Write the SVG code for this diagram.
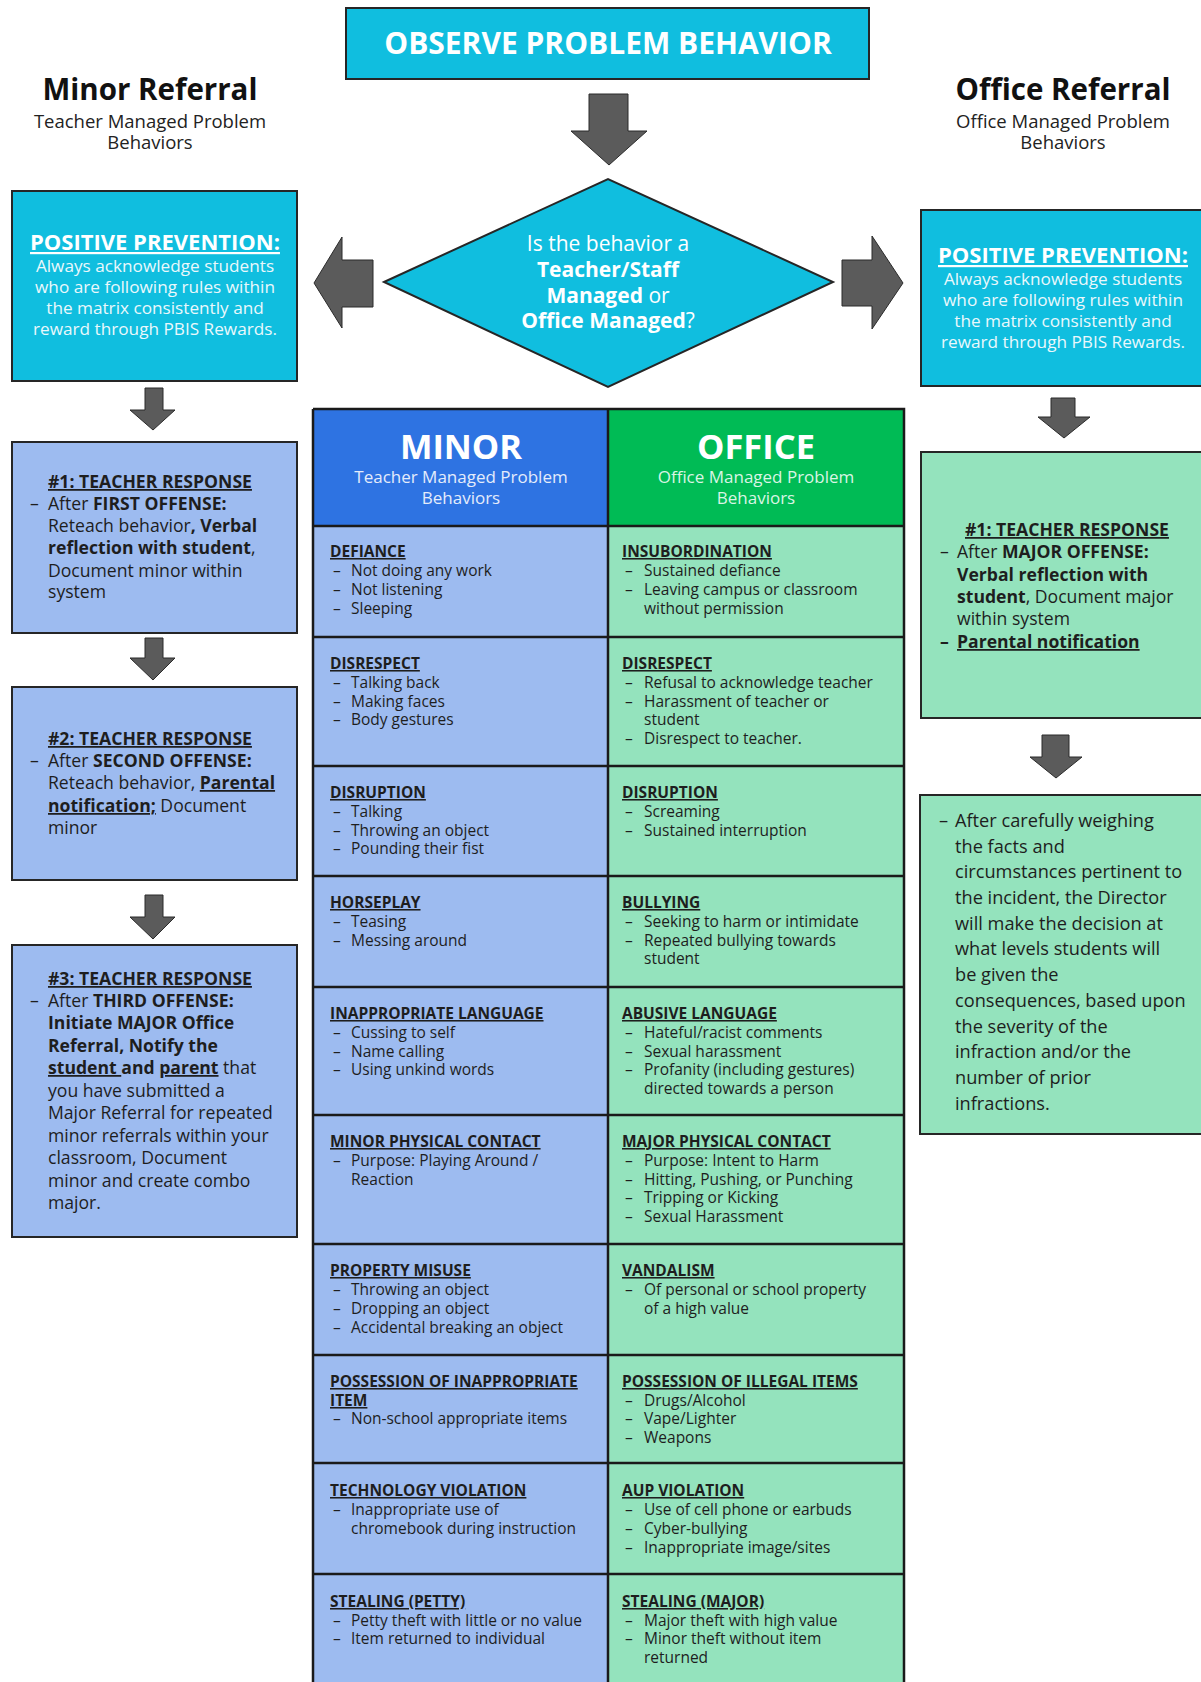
<svg xmlns="http://www.w3.org/2000/svg" width="1201" height="1682" viewBox="0 0 1201 1682">
<defs>
<style>
text{font-family:"Open Sans","Liberation Sans",sans-serif;}
.cyan{fill:#10bedf;stroke:#262626;stroke-width:2;}
.blue{fill:#9dbbf0;stroke:#262626;stroke-width:2;}
.mint{fill:#94e3bd;stroke:#262626;stroke-width:2;}
.arrow{fill:#5b5b5b;stroke:#2b2b2b;stroke-width:1;}
.grid{stroke:#1a1a1a;stroke-width:2.5;fill:none;}
.w{fill:#ffffff;}
.wl{fill:#eaf8fc;}
.b{font-weight:700;}
.u{text-decoration:underline;}
.ttl{font-size:29.5px;font-weight:700;fill:#111;}
.sub{font-size:18.5px;fill:#222;}
.pp{font-size:22px;font-weight:700;text-decoration:underline;}
.ppb{font-size:17.2px;}
.tb{font-size:17.6px;fill:#1e1e1e;}
.tb2{font-size:18.2px;fill:#1e1e1e;}
.ch{font-size:15.5px;font-weight:700;text-decoration:underline;fill:#1e1e1e;}
.ct{font-size:15.5px;fill:#1e1e1e;}
</style>
</defs>

<g id="connectors">
<polygon class="arrow" points="589,94 628,94 628,131 647,131 609,165 571,131 589,131"/>
<polygon class="arrow" points="373,260 342,260 342,237 314,283 342,328 342,307 373,307"/>
<polygon class="arrow" points="842,260 872,260 872,236 903,283 872,329 872,306 842,306"/>
<polygon class="arrow" points="145,388 163,388 163,410 175,410 153,430 130,410 145,410"/>
<polygon class="arrow" points="145,638 163,638 163,658 175,658 153,680 130,658 145,658"/>
<polygon class="arrow" points="145,895 163,895 163,917 175,917 153,939 130,917 145,917"/>
<polygon class="arrow" points="1051,398 1075,398 1075,417 1090,417 1064,438 1038,417 1051,417"/>
<polygon class="arrow" points="1042,735 1069,735 1069,757 1082,757 1056,778 1030,757 1042,757"/>
</g>

<g id="observe">
<rect class="cyan" x="346" y="8" width="523" height="71"/>
<text class="w b" x="608" y="54" font-size="30" text-anchor="middle">OBSERVE PROBLEM BEHAVIOR</text>
</g>

<g id="minor-title">
<text class="ttl" x="150" y="100" text-anchor="middle">Minor Referral</text>
<text class="sub" x="150" y="128" text-anchor="middle">Teacher Managed Problem</text>
<text class="sub" x="150" y="149" text-anchor="middle">Behaviors</text>
</g>

<g id="office-title">
<text class="ttl" x="1063" y="100" text-anchor="middle">Office Referral</text>
<text class="sub" x="1063" y="128" text-anchor="middle">Office Managed Problem</text>
<text class="sub" x="1063" y="149" text-anchor="middle">Behaviors</text>
</g>

<g id="decision">
<polygon class="cyan" points="384,282 608,179 833,282 608,387" stroke-width="1.5"/>
<g class="w" font-size="21" text-anchor="middle">
<text x="608" y="251">Is the behavior a</text>
<text x="608" y="277" class="w b">Teacher/Staff</text>
<text x="608" y="303"><tspan class="b">Managed</tspan> or</text>
<text x="608" y="328"><tspan class="b">Office Managed</tspan>?</text>
</g>
</g>

<g id="left-prevention">
<rect class="cyan" x="12" y="191" width="285" height="190"/>
<text class="w pp" x="155" y="250" text-anchor="middle">POSITIVE PREVENTION:</text>
<text class="wl ppb" x="155" y="272" text-anchor="middle">Always acknowledge students</text>
<text class="wl ppb" x="155" y="293" text-anchor="middle">who are following rules within</text>
<text class="wl ppb" x="155" y="314" text-anchor="middle">the matrix consistently and</text>
<text class="wl ppb" x="155" y="335" text-anchor="middle">reward through PBIS Rewards.</text>
</g>

<g id="right-prevention">
<rect class="cyan" x="921" y="210" width="295" height="176"/>
<text class="w pp" x="1063" y="263" text-anchor="middle">POSITIVE PREVENTION:</text>
<text class="wl ppb" x="1063" y="285" text-anchor="middle">Always acknowledge students</text>
<text class="wl ppb" x="1063" y="306" text-anchor="middle">who are following rules within</text>
<text class="wl ppb" x="1063" y="327" text-anchor="middle">the matrix consistently and</text>
<text class="wl ppb" x="1063" y="348" text-anchor="middle">reward through PBIS Rewards.</text>
</g>

<g id="teacher-response-1">
<rect class="blue" x="12" y="442" width="285" height="191"/>
<text class="tb b u" x="48" y="488">#1: TEACHER RESPONSE</text>
<text class="tb" x="30" y="510">–</text>
<text class="tb" x="48" y="510">After <tspan class="b">FIRST OFFENSE:</tspan></text>
<text class="tb" x="48" y="532">Reteach behavior<tspan class="b">, Verbal</tspan></text>
<text class="tb" x="48" y="554"><tspan class="b">reflection with student</tspan>,</text>
<text class="tb" x="48" y="577">Document minor within</text>
<text class="tb" x="48" y="598">system</text>
</g>

<g id="teacher-response-2">
<rect class="blue" x="12" y="687" width="285" height="193"/>
<text class="tb b u" x="48" y="745">#2: TEACHER RESPONSE</text>
<text class="tb" x="30" y="767">–</text>
<text class="tb" x="48" y="767">After <tspan class="b">SECOND OFFENSE:</tspan></text>
<text class="tb" x="48" y="789">Reteach behavior, <tspan class="b u">Parental</tspan></text>
<text class="tb" x="48" y="812"><tspan class="b u">notification;</tspan> Document</text>
<text class="tb" x="48" y="834">minor</text>
</g>

<g id="teacher-response-3">
<rect class="blue" x="12" y="945" width="285" height="292"/>
<text class="tb b u" x="48" y="985">#3: TEACHER RESPONSE</text>
<text class="tb" x="30" y="1007">–</text>
<text class="tb" x="48" y="1007">After <tspan class="b">THIRD OFFENSE:</tspan></text>
<text class="tb b" x="48" y="1029">Initiate MAJOR Office</text>
<text class="tb b" x="48" y="1052">Referral, Notify the</text>
<text class="tb" x="48" y="1074"><tspan class="b u">student </tspan><tspan class="b">and </tspan><tspan class="b u">parent</tspan> that</text>
<text class="tb" x="48" y="1097">you have submitted a</text>
<text class="tb" x="48" y="1119">Major Referral for repeated</text>
<text class="tb" x="48" y="1142">minor referrals within your</text>
<text class="tb" x="48" y="1164">classroom, Document</text>
<text class="tb" x="48" y="1187">minor and create combo</text>
<text class="tb" x="48" y="1209">major.</text>
</g>

<g id="office-response-1">
<rect class="mint" x="921" y="452" width="295" height="266"/>
<text class="tb b u" x="965" y="536">#1: TEACHER RESPONSE</text>
<text class="tb" x="940" y="558">–</text>
<text class="tb" x="957" y="558">After <tspan class="b">MAJOR OFFENSE:</tspan></text>
<text class="tb b" x="957" y="581">Verbal reflection with</text>
<text class="tb" x="957" y="603"><tspan class="b">student</tspan>, Document major</text>
<text class="tb" x="957" y="625">within system</text>
<text class="tb b" x="940" y="648">–</text>
<text class="tb b u" x="957" y="648">Parental notification</text>
</g>

<g id="office-response-2">
<rect class="mint" x="920" y="795" width="296" height="339"/>
<text class="tb2" x="939" y="827">–</text>
<text class="tb2" x="955" y="827">After carefully weighing</text>
<text class="tb2" x="955" y="853">the facts and</text>
<text class="tb2" x="955" y="878">circumstances pertinent to</text>
<text class="tb2" x="955" y="904">the incident, the Director</text>
<text class="tb2" x="955" y="930">will make the decision at</text>
<text class="tb2" x="955" y="955">what levels students will</text>
<text class="tb2" x="955" y="981">be given the</text>
<text class="tb2" x="955" y="1007">consequences, based upon</text>
<text class="tb2" x="955" y="1033">the severity of the</text>
<text class="tb2" x="955" y="1058">infraction and/or the</text>
<text class="tb2" x="955" y="1084">number of prior</text>
<text class="tb2" x="955" y="1110">infractions.</text>
</g>

<g id="matrix">
<rect x="313" y="409" width="295" height="117" fill="#2e73e2"/>
<rect x="608" y="409" width="296" height="117" fill="#00bb55"/>
<rect x="313" y="526" width="295" height="1160" fill="#9dbbf0"/>
<rect x="608" y="526" width="296" height="1160" fill="#94e3bd"/>
<path class="grid" d="M313,409 H904 V1690 M313,409 V1690 M608,409 V1690 M313,526 H904 M313,637 H904 M313,766 H904 M313,876 H904 M313,987 H904 M313,1115 H904 M313,1244 H904 M313,1355 H904 M313,1463 H904 M313,1574 H904"/>
</g>

<g id="minor-header">
<text class="w b" x="461" y="459" font-size="34.5" text-anchor="middle">MINOR</text>
<text x="461" y="483" font-size="17" fill="#e4ecfb" text-anchor="middle">Teacher Managed Problem</text>
<text x="461" y="504" font-size="17" fill="#e4ecfb" text-anchor="middle">Behaviors</text>
</g>
<g id="office-header">
<text class="w b" x="756" y="459" font-size="34.5" text-anchor="middle">OFFICE</text>
<text x="756" y="483" font-size="17" fill="#d9f5e4" text-anchor="middle">Office Managed Problem</text>
<text x="756" y="504" font-size="17" fill="#d9f5e4" text-anchor="middle">Behaviors</text>
</g>

<g id="minor-defiance">
<text class="ch" x="330" y="557">DEFIANCE</text>
<text class="ct" x="333" y="576">–</text><text class="ct" x="351" y="576">Not doing any work</text>
<text class="ct" x="333" y="595">–</text><text class="ct" x="351" y="595">Not listening</text>
<text class="ct" x="333" y="614">–</text><text class="ct" x="351" y="614">Sleeping</text>
</g>
<g id="office-insubordination">
<text class="ch" x="622" y="557">INSUBORDINATION</text>
<text class="ct" x="625" y="576">–</text><text class="ct" x="644" y="576">Sustained defiance</text>
<text class="ct" x="625" y="595">–</text><text class="ct" x="644" y="595">Leaving campus or classroom</text>
<text class="ct" x="644" y="614">without permission</text>
</g>

<g id="minor-disrespect">
<text class="ch" x="330" y="669">DISRESPECT</text>
<text class="ct" x="333" y="688">–</text><text class="ct" x="351" y="688">Talking back</text>
<text class="ct" x="333" y="707">–</text><text class="ct" x="351" y="707">Making faces</text>
<text class="ct" x="333" y="725">–</text><text class="ct" x="351" y="725">Body gestures</text>
</g>
<g id="office-disrespect">
<text class="ch" x="622" y="669">DISRESPECT</text>
<text class="ct" x="625" y="688">–</text><text class="ct" x="644" y="688">Refusal to acknowledge teacher</text>
<text class="ct" x="625" y="707">–</text><text class="ct" x="644" y="707">Harassment of teacher or</text>
<text class="ct" x="644" y="725">student</text>
<text class="ct" x="625" y="744">–</text><text class="ct" x="644" y="744">Disrespect to teacher.</text>
</g>

<g id="minor-disruption">
<text class="ch" x="330" y="798">DISRUPTION</text>
<text class="ct" x="333" y="817">–</text><text class="ct" x="351" y="817">Talking</text>
<text class="ct" x="333" y="836">–</text><text class="ct" x="351" y="836">Throwing an object</text>
<text class="ct" x="333" y="854">–</text><text class="ct" x="351" y="854">Pounding their fist</text>
</g>
<g id="office-disruption">
<text class="ch" x="622" y="798">DISRUPTION</text>
<text class="ct" x="625" y="817">–</text><text class="ct" x="644" y="817">Screaming</text>
<text class="ct" x="625" y="836">–</text><text class="ct" x="644" y="836">Sustained interruption</text>
</g>

<g id="minor-horseplay">
<text class="ch" x="330" y="908">HORSEPLAY</text>
<text class="ct" x="333" y="927">–</text><text class="ct" x="351" y="927">Teasing</text>
<text class="ct" x="333" y="946">–</text><text class="ct" x="351" y="946">Messing around</text>
</g>
<g id="office-bullying">
<text class="ch" x="622" y="908">BULLYING</text>
<text class="ct" x="625" y="927">–</text><text class="ct" x="644" y="927">Seeking to harm or intimidate</text>
<text class="ct" x="625" y="946">–</text><text class="ct" x="644" y="946">Repeated bullying towards</text>
<text class="ct" x="644" y="964">student</text>
</g>

<g id="minor-language">
<text class="ch" x="330" y="1019">INAPPROPRIATE LANGUAGE</text>
<text class="ct" x="333" y="1038">–</text><text class="ct" x="351" y="1038">Cussing to self</text>
<text class="ct" x="333" y="1057">–</text><text class="ct" x="351" y="1057">Name calling</text>
<text class="ct" x="333" y="1075">–</text><text class="ct" x="351" y="1075">Using unkind words</text>
</g>
<g id="office-language">
<text class="ch" x="622" y="1019">ABUSIVE LANGUAGE</text>
<text class="ct" x="625" y="1038">–</text><text class="ct" x="644" y="1038">Hateful/racist comments</text>
<text class="ct" x="625" y="1057">–</text><text class="ct" x="644" y="1057">Sexual harassment</text>
<text class="ct" x="625" y="1075">–</text><text class="ct" x="644" y="1075">Profanity (including gestures)</text>
<text class="ct" x="644" y="1094">directed towards a person</text>
</g>

<g id="minor-physical">
<text class="ch" x="330" y="1147">MINOR PHYSICAL CONTACT</text>
<text class="ct" x="333" y="1166">–</text><text class="ct" x="351" y="1166">Purpose: Playing Around /</text>
<text class="ct" x="351" y="1185">Reaction</text>
</g>
<g id="office-physical">
<text class="ch" x="622" y="1147">MAJOR PHYSICAL CONTACT</text>
<text class="ct" x="625" y="1166">–</text><text class="ct" x="644" y="1166">Purpose: Intent to Harm</text>
<text class="ct" x="625" y="1185">–</text><text class="ct" x="644" y="1185">Hitting, Pushing, or Punching</text>
<text class="ct" x="625" y="1203">–</text><text class="ct" x="644" y="1203">Tripping or Kicking</text>
<text class="ct" x="625" y="1222">–</text><text class="ct" x="644" y="1222">Sexual Harassment</text>
</g>

<g id="minor-property">
<text class="ch" x="330" y="1276">PROPERTY MISUSE</text>
<text class="ct" x="333" y="1295">–</text><text class="ct" x="351" y="1295">Throwing an object</text>
<text class="ct" x="333" y="1314">–</text><text class="ct" x="351" y="1314">Dropping an object</text>
<text class="ct" x="333" y="1333">–</text><text class="ct" x="351" y="1333">Accidental breaking an object</text>
</g>
<g id="office-vandalism">
<text class="ch" x="622" y="1276">VANDALISM</text>
<text class="ct" x="625" y="1295">–</text><text class="ct" x="644" y="1295">Of personal or school property</text>
<text class="ct" x="644" y="1314">of a high value</text>
</g>

<g id="minor-possession">
<text class="ch" x="330" y="1387">POSSESSION OF INAPPROPRIATE</text>
<text class="ch" x="330" y="1406">ITEM</text>
<text class="ct" x="333" y="1424">–</text><text class="ct" x="351" y="1424">Non-school appropriate items</text>
</g>
<g id="office-possession">
<text class="ch" x="622" y="1387">POSSESSION OF ILLEGAL ITEMS</text>
<text class="ct" x="625" y="1406">–</text><text class="ct" x="644" y="1406">Drugs/Alcohol</text>
<text class="ct" x="625" y="1424">–</text><text class="ct" x="644" y="1424">Vape/Lighter</text>
<text class="ct" x="625" y="1443">–</text><text class="ct" x="644" y="1443">Weapons</text>
</g>

<g id="minor-technology">
<text class="ch" x="330" y="1496">TECHNOLOGY VIOLATION</text>
<text class="ct" x="333" y="1515">–</text><text class="ct" x="351" y="1515">Inappropriate use of</text>
<text class="ct" x="351" y="1534">chromebook during instruction</text>
</g>
<g id="office-aup">
<text class="ch" x="622" y="1496">AUP VIOLATION</text>
<text class="ct" x="625" y="1515">–</text><text class="ct" x="644" y="1515">Use of cell phone or earbuds</text>
<text class="ct" x="625" y="1534">–</text><text class="ct" x="644" y="1534">Cyber-bullying</text>
<text class="ct" x="625" y="1553">–</text><text class="ct" x="644" y="1553">Inappropriate image/sites</text>
</g>

<g id="minor-stealing">
<text class="ch" x="330" y="1607">STEALING (PETTY)</text>
<text class="ct" x="333" y="1626">–</text><text class="ct" x="351" y="1626">Petty theft with little or no value</text>
<text class="ct" x="333" y="1644">–</text><text class="ct" x="351" y="1644">Item returned to individual</text>
</g>
<g id="office-stealing">
<text class="ch" x="622" y="1607">STEALING (MAJOR)</text>
<text class="ct" x="625" y="1626">–</text><text class="ct" x="644" y="1626">Major theft with high value</text>
<text class="ct" x="625" y="1644">–</text><text class="ct" x="644" y="1644">Minor theft without item</text>
<text class="ct" x="644" y="1663">returned</text>
</g>
</svg>
